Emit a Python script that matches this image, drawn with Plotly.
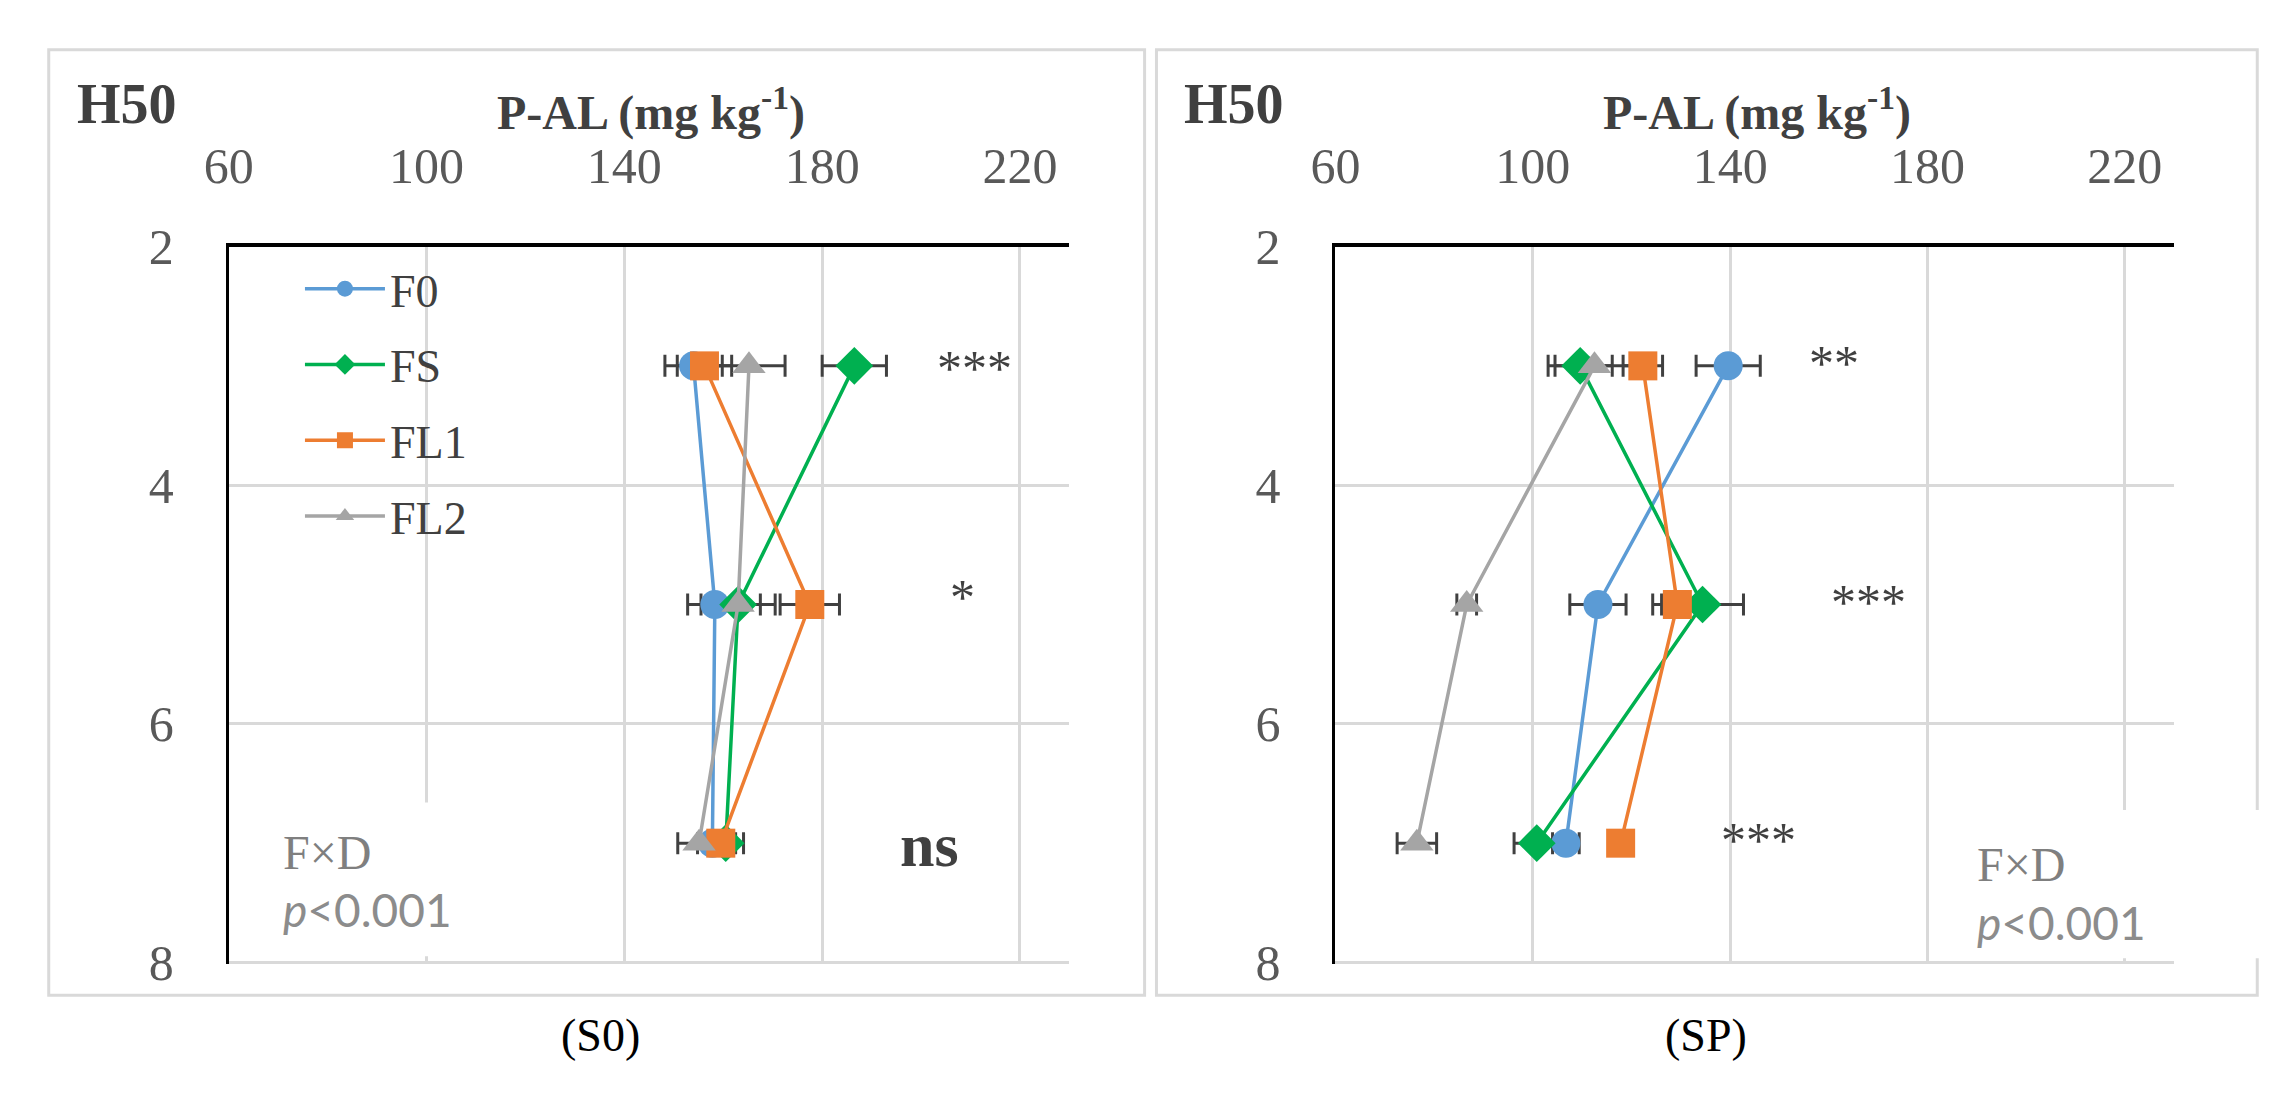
import plotly.graph_objects as go

W, H = 2281, 1104

# depth (cm) rows
depth = [3, 5, 7]
series = ["F0", "FS", "FL1", "FL2"]
colors = ["#5B9BD5", "#00B050", "#ED7D31", "#A5A5A5"]
symbols = ["circle", "diamond", "square", "triangle-up"]

# P-AL (mg kg-1), panel S0
s0_f0 = [154.0, 158.3, 157.8]
s0_fs = [186.5, 163.0, 160.5]
s0_fl1 = [156.2, 177.5, 159.5]
s0_fl2 = [165.2, 163.0, 155.1]
s0_f0_err = [5.8, 5.5, 3.0]
s0_fs_err = [6.5, 7.5, 3.6]
s0_fl1_err = [5.5, 6.0, 3.0]
s0_fl2_err = [7.3, 4.5, 4.3]

# P-AL (mg kg-1), panel SP
sp_f0 = [139.6, 113.2, 106.7]
sp_fs = [109.6, 134.4, 100.8]
sp_fl1 = [122.3, 129.3, 117.8]
sp_fl2 = [112.5, 86.6, 76.5]
sp_f0_err = [6.5, 5.7, 2.7]
sp_fs_err = [6.5, 8.3, 4.6]
sp_fl1_err = [4.0, 5.0, 2.0]
sp_fl2_err = [8.0, 2.0, 4.0]

sig_s0 = ["***", "*", "ns"]
sig_sp = ["**", "***", "***"]

x_ticks = [60, 100, 140, 180, 220]
y_ticks = [2, 4, 6, 8]

SERIF = "Liberation Serif"


def px(x):
    return x / W


def py(y):
    return 1 - y / H


fig = go.Figure()

panels = [
    ("x", "y", [s0_f0, s0_fs, s0_fl1, s0_fl2], [s0_f0_err, s0_fs_err, s0_fl1_err, s0_fl2_err], True),
    ("x2", "y2", [sp_f0, sp_fs, sp_fl1, sp_fl2], [sp_f0_err, sp_fs_err, sp_fl1_err, sp_fl2_err], False),
]
for xa, ya, vals, errs, legend in panels:
    # error bars first so markers sit on top
    for i in range(len(series)):
        fig.add_trace(go.Scatter(
            x=vals[i], y=depth, xaxis=xa, yaxis=ya, mode="markers",
            marker=dict(size=1, color="rgba(0,0,0,0)"),
            error_x=dict(type="data", array=errs[i], color="#404040", thickness=3, width=11),
            showlegend=False, hoverinfo="skip"))
    for i in range(len(series)):
        fig.add_trace(go.Scatter(
            x=vals[i], y=depth, xaxis=xa, yaxis=ya, mode="lines+markers",
            name=series[i], legendgroup=series[i], showlegend=legend,
            line=dict(color=colors[i], width=3.5),
            marker=dict(symbol=symbols[i], size=29, color=colors[i])))

axis_font = dict(family=SERIF, size=50, color="#595959")
xcommon = dict(side="top", range=[60, 230], tickvals=x_ticks, ticks="",
               showline=True, linecolor="black", linewidth=4,
               showgrid=True, gridcolor="#D9D9D9", gridwidth=3,
               zeroline=False, tickfont=axis_font, ticklabelstandoff=40)
ycommon = dict(range=[8.012, 2], tickvals=y_ticks, ticks="",
               showline=True, linecolor="black", linewidth=3,
               showgrid=True, gridcolor="#D9D9D9", gridwidth=3,
               zeroline=False, tickfont=axis_font, ticklabelstandoff=42)

fig.update_layout(
    width=W, height=H,
    margin=dict(l=0, r=0, t=0, b=0),
    paper_bgcolor="white", plot_bgcolor="white",
    xaxis=dict(domain=[px(206), px(1056)], anchor="y", **xcommon),
    yaxis=dict(domain=[py(985), py(230)], anchor="x", **ycommon),
    xaxis2=dict(domain=[px(1325), px(2173)], anchor="y2", **xcommon),
    yaxis2=dict(domain=[py(985), py(230)], anchor="x2", **ycommon),
    legend=dict(x=px(278), y=py(236), xanchor="left", yanchor="top",
                font=dict(family=SERIF, size=46, color="#404040"),
                bgcolor="rgba(0,0,0,0)", tracegroupgap=13, itemwidth=80,
                itemsizing="trace"),
    showlegend=True,
)

shapes = []
# panel frames
for x0, x1 in [(24, 1132), (1144, 2257)]:
    shapes.append(dict(type="rect", xref="paper", yref="paper",
                       x0=px(x0), x1=px(x1), y0=py(1018), y1=py(23),
                       line=dict(color="#D9D9D9", width=3), fillcolor="rgba(0,0,0,0)",
                       layer="above"))
# white boxes behind the F×D labels
for x0, x1, y0, y1 in [(214, 440, 815, 977), (1935, 2262, 823, 979)]:
    shapes.append(dict(type="rect", xref="paper", yref="paper",
                       x0=px(x0), x1=px(x1), y0=py(y1), y1=py(y0),
                       line=dict(width=0), fillcolor="white", layer="above"))
fig.update_layout(shapes=shapes)

ann = []
title = "P-AL (mg kg<sup>-1</sup>)"
for cx, hx in [(633, 51), (1751, 1170)]:
    ann.append(dict(x=px(cx), y=py(86), xref="paper", yref="paper", text="<b>" + title + "</b>",
                    showarrow=False, xanchor="center", yanchor="middle",
                    font=dict(family=SERIF, size=48, color="#404040")))
    ann.append(dict(x=px(hx), y=py(80), xref="paper", yref="paper", text="<b>H50</b>",
                    showarrow=False, xanchor="left", yanchor="middle",
                    font=dict(family=SERIF, size=56, color="#404040")))

# significance marks
sig_x_s0 = [210.8, 208.4, 201.8]
sig_x_sp = [161.0, 168.0, 145.8]
sig_shift_s0 = [-2, 8, -2]
for lab, sx, d, sh in zip(sig_s0, sig_x_s0, depth, sig_shift_s0):
    bold = lab == "ns"
    ann.append(dict(x=sx, y=d, xref="x", yref="y",
                    text="<b>" + lab + "</b>" if bold else lab,
                    showarrow=False, xanchor="center", yanchor="middle", yshift=sh,
                    font=dict(family=SERIF, size=62 if bold else 50, color="#404040")))
for lab, sx, d in zip(sig_sp, sig_x_sp, depth):
    ann.append(dict(x=sx, y=d, xref="x2", yref="y2", text=lab,
                    showarrow=False, xanchor="center", yanchor="middle", yshift=3,
                    font=dict(family=SERIF, size=50, color="#404040")))

# F×D interaction labels
for lx, fy, pyy in [(259, 868, 928), (1972, 880, 941)]:
    ann.append(dict(x=px(lx), y=py(fy), xref="paper", yref="paper", text="F×D",
                    showarrow=False, xanchor="left", yanchor="middle",
                    font=dict(family=SERIF, size=48, color="#7F7F7F")))
    ann.append(dict(x=px(lx), y=py(pyy), xref="paper", yref="paper", text="<i>p</i><0.001",
                    showarrow=False, xanchor="left", yanchor="middle",
                    font=dict(family="Lato", size=46, color="#8C8C8C")))

# captions
for cx, lab in [(582, "(S0)"), (1700, "(SP)")]:
    ann.append(dict(x=px(cx), y=py(1060), xref="paper", yref="paper", text=lab,
                    showarrow=False, xanchor="center", yanchor="middle",
                    font=dict(family=SERIF, size=46, color="black")))

fig.update_layout(annotations=ann)

fig.write_html("out.html", config={"displayModeBar": False},
               post_script="document.body.style.margin='0';document.body.style.overflow='hidden';")
